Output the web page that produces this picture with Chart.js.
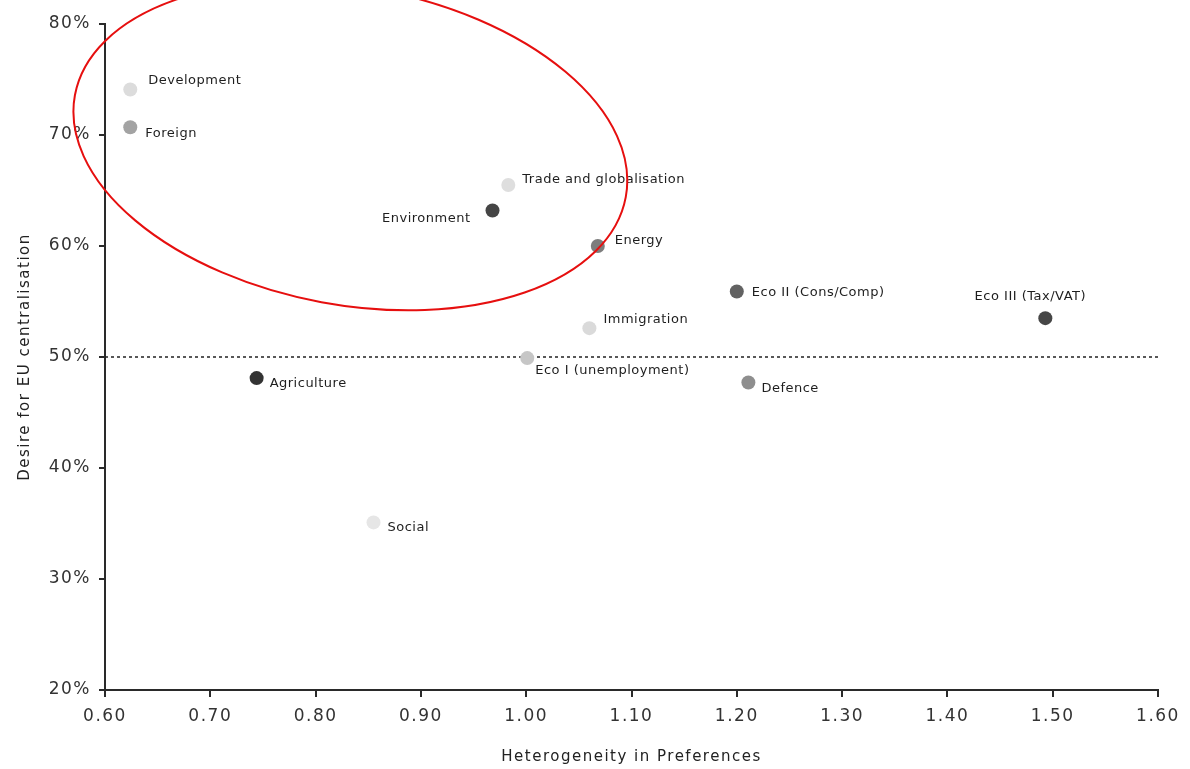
<!DOCTYPE html>
<html>
<head>
<meta charset="utf-8">
<script src="https://cdn.jsdelivr.net/npm/chart.js@4.4.1/dist/chart.umd.min.js"></script>
<style>
  html, body { margin: 0; padding: 0; background: #ffffff; }
  #wrap { width: 1190px; height: 769px; }
</style>
</head>
<body>
<div id="wrap"><canvas id="c" width="1190" height="769"></canvas></div>
<script>
// ---- data ----
const categories = ["Development", "Foreign", "Trade and globalisation", "Environment", "Energy",
  "Eco II (Cons/Comp)", "Eco III (Tax/VAT)", "Immigration", "Eco I (unemployment)",
  "Agriculture", "Defence", "Social"];
const heterogeneity = [0.624, 0.624, 0.983, 0.968, 1.068, 1.200, 1.493, 1.060, 1.001, 0.744, 1.211, 0.855];
const centralisation = [74.1, 70.7, 65.5, 63.2, 60.0, 55.9, 53.5, 52.6, 49.9, 48.1, 47.7, 35.1];
const xTicks = [0.60, 0.70, 0.80, 0.90, 1.00, 1.10, 1.20, 1.30, 1.40, 1.50, 1.60];
const yTicks = [20, 30, 40, 50, 60, 70, 80];
const threshold = 50;

// ---- styles ----
const pointColors = ["#dcdcdc", "#a3a3a3", "#dedede", "#454545", "#7d7d7d",
  "#626262", "#464646", "#dadada", "#c6c6c6", "#333333", "#8e8e8e", "#e6e6e6"];
// label placement: [dx, dy, align]
const labelPlace = [[18,-9,"left"],[15,6,"left"],[14,-5,"left"],[-22,8,"right"],[17,-5,"left"],
  [15,1,"left"],[-15,-22,"center"],[14,-9,"left"],[8,13,"left"],[13,6,"left"],[13,6,"left"],[14,5,"left"]];
// highlight ellipse (in axis units): centre x, centre y, radius x, radius y, rotation deg
const ellipseSpec = { cx: 0.833, cy: 69.0, rx: 0.266, ry: 14.3, rot: 10.5 };

const FONT = "'DejaVu Sans', sans-serif";
const canvas = document.getElementById('c');

const spacingPlugin = {
  id: 'spacing',
  beforeDraw(chart) { chart.ctx.letterSpacing = '1.5px'; }
};

const labelPlugin = {
  id: 'pointLabels',
  afterDatasetsDraw(chart) {
    const ctx = chart.ctx;
    const xs = chart.scales.x, ys = chart.scales.y;
    ctx.save();
    ctx.letterSpacing = '0.5px';
    ctx.font = "13px " + FONT;
    ctx.fillStyle = "#1e1e1e";
    ctx.textBaseline = "middle";
    categories.forEach((name, i) => {
      const px = xs.getPixelForValue(heterogeneity[i]);
      const py = ys.getPixelForValue(centralisation[i]);
      const p = labelPlace[i];
      ctx.textAlign = p[2];
      ctx.fillText(name, px + p[0], py + p[1]);
    });
    // highlighted cluster ellipse
    const e = ellipseSpec;
    const cx = xs.getPixelForValue(e.cx), cy = ys.getPixelForValue(e.cy);
    const rx = Math.abs(xs.getPixelForValue(e.cx + e.rx) - cx);
    const ry = Math.abs(ys.getPixelForValue(e.cy - e.ry) - cy);
    ctx.beginPath();
    ctx.ellipse(cx, cy, rx, ry, e.rot * Math.PI / 180, 0, Math.PI * 2);
    ctx.strokeStyle = "#e60f0f";
    ctx.lineWidth = 2;
    ctx.stroke();
    ctx.restore();
  }
};

new Chart(canvas, {
  data: {
    datasets: [
      {
        type: 'scatter',
        data: categories.map((c, i) => ({ x: heterogeneity[i], y: centralisation[i] })),
        backgroundColor: pointColors,
        borderColor: pointColors,
        pointRadius: 7,
        pointHoverRadius: 7,
        borderWidth: 0,
        order: 1
      },
      {
        type: 'line',
        data: [{ x: xTicks[0], y: threshold }, { x: xTicks[xTicks.length - 1], y: threshold }],
        borderColor: "#222",
        borderWidth: 1.5,
        borderDash: [3, 3],
        pointRadius: 0,
        fill: false,
        order: 2
      }
    ]
  },
  options: {
    responsive: false,
    animation: false,
    layout: { padding: { top: 24, right: 32, bottom: 0, left: 0 } },
    plugins: { legend: { display: false }, tooltip: { enabled: false } },
    scales: {
      x: {
        type: 'linear',
        min: xTicks[0], max: xTicks[xTicks.length - 1],
        afterBuildTicks: (s) => { s.ticks = xTicks.map(v => ({ value: v })); },
        afterFit: (s) => { s.height = 79; },
        ticks: { callback: (v) => Number(v).toFixed(2), color: "#333", font: { family: FONT, size: 17 }, padding: 9, maxRotation: 0 },
        grid: { display: true, drawOnChartArea: false, drawTicks: true, tickLength: 7, color: "#2a2a2a", lineWidth: 2 },
        border: { display: true, color: "#2a2a2a", width: 2 },
        title: { display: true, text: "Heterogeneity in Preferences", color: "#222", font: { family: FONT, size: 15 }, padding: { top: 3, bottom: 3 } }
      },
      y: {
        type: 'linear',
        min: yTicks[0], max: yTicks[yTicks.length - 1],
        afterBuildTicks: (s) => { s.ticks = yTicks.map(v => ({ value: v })); },
        afterFit: (s) => { s.width = 105; },
        ticks: { callback: (v) => v + "%", color: "#333", font: { family: FONT, size: 17 }, padding: 8 },
        grid: { display: true, drawOnChartArea: false, drawTicks: true, tickLength: 6, color: "#2a2a2a", lineWidth: 2 },
        border: { display: true, color: "#2a2a2a", width: 2 },
        title: { display: true, text: "Desire for EU centralisation", color: "#222", font: { family: FONT, size: 15 }, padding: { top: 16, bottom: 16 } }
      }
    }
  },
  plugins: [spacingPlugin, labelPlugin]
});
</script>
</body>
</html>
